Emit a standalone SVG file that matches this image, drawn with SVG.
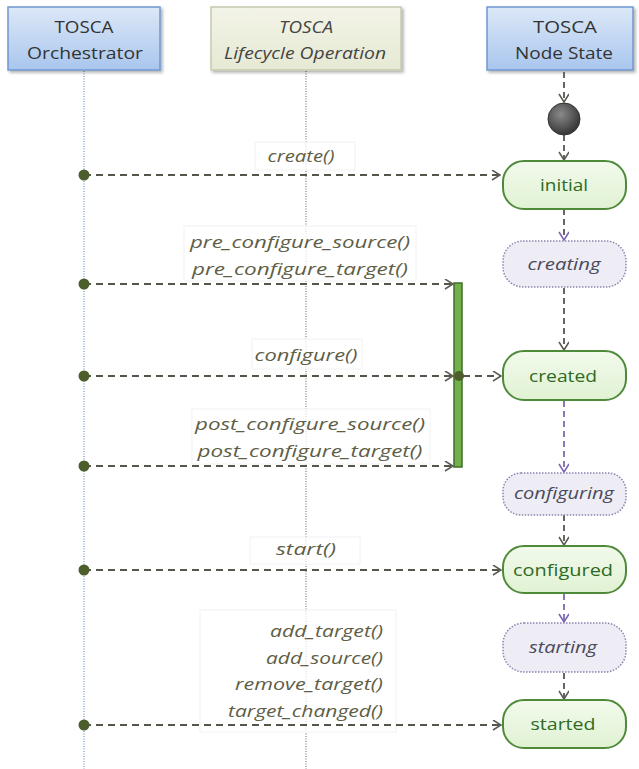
<svg xmlns="http://www.w3.org/2000/svg" width="639" height="769" viewBox="0 0 639 769">
<defs>
  <linearGradient id="gBlue" x1="0" y1="0" x2="0" y2="1">
    <stop offset="0" stop-color="#dce8f7"/>
    <stop offset="1" stop-color="#a9c6ee"/>
  </linearGradient>
  <linearGradient id="gBeige" x1="0" y1="0" x2="0" y2="1">
    <stop offset="0" stop-color="#f3f4e8"/>
    <stop offset="1" stop-color="#e6e9d3"/>
  </linearGradient>
  <linearGradient id="gGreen" x1="0" y1="0" x2="0" y2="1">
    <stop offset="0" stop-color="#f2faec"/>
    <stop offset="1" stop-color="#e0f2d3"/>
  </linearGradient>
  <radialGradient id="gDot" cx="0.4" cy="0.35" r="0.7">
    <stop offset="0" stop-color="#8a8a8a"/>
    <stop offset="1" stop-color="#303030"/>
  </radialGradient>
  <filter id="shadow" x="-10%" y="-10%" width="125%" height="130%">
    <feDropShadow dx="2" dy="2" stdDeviation="1.5" flood-color="#000" flood-opacity="0.3"/>
  </filter>
  <marker id="aGray" markerWidth="12" markerHeight="12" refX="9" refY="5" orient="auto" markerUnits="userSpaceOnUse">
    <path d="M1,0 L9,5 L1,10" fill="none" stroke="#5a5a50" stroke-width="1.5"/>
  </marker>
  <marker id="aPurple" markerWidth="12" markerHeight="12" refX="9" refY="5" orient="auto" markerUnits="userSpaceOnUse">
    <path d="M1,0 L9,5 L1,10" fill="none" stroke="#7a64b0" stroke-width="1.5"/>
  </marker>
</defs>
<style>
  .hdr { font-family: "Open Sans", "Liberation Sans", sans-serif; font-size: 17px; fill: #333; text-anchor: middle; }
  .hdri { font-family: "Open Sans", "Liberation Sans", sans-serif; font-size: 16px; fill: #444; text-anchor: middle; font-style: italic; }
  .lbl { font-family: "Open Sans", "Liberation Sans", sans-serif; font-size: 16.5px; fill: #5e5e46; font-style: italic; }
  .st { font-family: "Open Sans", "Liberation Sans", sans-serif; font-size: 17px; fill: #2e6a22; text-anchor: middle; }
  .sti { font-family: "Open Sans", "Liberation Sans", sans-serif; font-size: 17px; fill: #4a4a5a; text-anchor: middle; font-style: italic; }
  .green { fill: url(#gGreen); stroke: #4f8a3a; stroke-width: 2; }
  .lav { fill: #eeecf4; stroke: #8f84b0; stroke-width: 1.5; stroke-dasharray: 1.5 1.5; }
  .msg { stroke: #55554a; stroke-width: 2; stroke-dasharray: 7 5; fill: none; }
  .tr { stroke: #666; stroke-width: 2; stroke-dasharray: 6 4; fill: none; }
  .trp { stroke: #8a76b8; stroke-width: 2; stroke-dasharray: 6 4; fill: none; }
  .dot { fill: #4b5e2c; }
  .lblbox { fill: #ffffff; fill-opacity: 0.75; stroke: #f2f2f2; stroke-width: 1; }
</style>
<rect width="639" height="769" fill="#ffffff"/>

<!-- lifelines -->
<g id="lifelines">
  <line x1="84" y1="71" x2="84" y2="769" stroke="#a8bedf" stroke-width="2" stroke-dasharray="1 1.5"/>
  <line x1="306" y1="71" x2="306" y2="769" stroke="#b0b0b0" stroke-width="2" stroke-dasharray="1 1.5"/>
</g>

<!-- headers -->
<g id="hdr-orchestrator">
  <rect x="8" y="7" width="152" height="63" fill="url(#gBlue)" stroke="#6f97cf" stroke-width="1.5" filter="url(#shadow)"/>
  <text class="hdr" x="84" y="33" textLength="59" lengthAdjust="spacingAndGlyphs">TOSCA</text>
  <text class="hdr" x="85" y="59" textLength="116" lengthAdjust="spacingAndGlyphs">Orchestrator</text>
</g>
<g id="hdr-lifecycle">
  <rect x="211" y="7" width="190" height="63" fill="url(#gBeige)" stroke="#c6c9ad" stroke-width="1.5" filter="url(#shadow)"/>
  <text class="hdri" x="306" y="33" textLength="54" lengthAdjust="spacingAndGlyphs">TOSCA</text>
  <text class="hdri" x="305" y="59" textLength="162" lengthAdjust="spacingAndGlyphs">Lifecycle Operation</text>
</g>
<g id="hdr-nodestate">
  <rect x="487" y="7" width="146" height="63" fill="url(#gBlue)" stroke="#6f97cf" stroke-width="1.5" filter="url(#shadow)"/>
  <text class="hdr" x="565" y="33" textLength="64" lengthAdjust="spacingAndGlyphs">TOSCA</text>
  <text class="hdr" x="564" y="59" textLength="98" lengthAdjust="spacingAndGlyphs">Node State</text>
</g>

<!-- label boxes -->
<g id="labels">
  <rect class="lblbox" x="255" y="142" width="100" height="28"/>
  <text class="lbl" x="301" y="162" text-anchor="middle" textLength="67" lengthAdjust="spacingAndGlyphs">create()</text>
  <rect class="lblbox" x="184" y="226" width="232" height="55"/>
  <text class="lbl" x="300" y="248" text-anchor="middle" textLength="220" lengthAdjust="spacingAndGlyphs">pre_configure_source()</text>
  <text class="lbl" x="300" y="275" text-anchor="middle" textLength="216" lengthAdjust="spacingAndGlyphs">pre_configure_target()</text>
  <rect class="lblbox" x="252" y="339" width="110" height="30"/>
  <text class="lbl" x="306" y="361" text-anchor="middle" textLength="103" lengthAdjust="spacingAndGlyphs">configure()</text>
  <rect class="lblbox" x="192" y="409" width="238" height="55"/>
  <text class="lbl" x="310" y="430" text-anchor="middle" textLength="230" lengthAdjust="spacingAndGlyphs">post_configure_source()</text>
  <text class="lbl" x="310" y="457" text-anchor="middle" textLength="225" lengthAdjust="spacingAndGlyphs">post_configure_target()</text>
  <rect class="lblbox" x="250" y="537" width="110" height="27"/>
  <text class="lbl" x="306" y="555" text-anchor="middle" textLength="60" lengthAdjust="spacingAndGlyphs">start()</text>
  <rect class="lblbox" x="200" y="610" width="196" height="122"/>
  <text class="lbl" x="383" y="637" text-anchor="end" textLength="113" lengthAdjust="spacingAndGlyphs">add_target()</text>
  <text class="lbl" x="383" y="664" text-anchor="end" textLength="117" lengthAdjust="spacingAndGlyphs">add_source()</text>
  <text class="lbl" x="383" y="690" text-anchor="end" textLength="148" lengthAdjust="spacingAndGlyphs">remove_target()</text>
  <text class="lbl" x="383" y="717" text-anchor="end" textLength="155" lengthAdjust="spacingAndGlyphs">target_changed()</text>
</g>

<!-- connectors -->
<g id="connectors">
  <line class="msg" x1="84" y1="175" x2="500" y2="175" marker-end="url(#aGray)"/>
  <line class="msg" x1="84" y1="284" x2="453" y2="284" marker-end="url(#aGray)"/>
  <line class="msg" x1="84" y1="376" x2="453" y2="376" marker-end="url(#aGray)"/>
  <line class="msg" x1="463" y1="376" x2="501" y2="376" marker-end="url(#aGray)"/>
  <line class="msg" x1="84" y1="466" x2="453" y2="466" marker-end="url(#aGray)"/>
  <line class="msg" x1="84" y1="570" x2="501" y2="570" marker-end="url(#aGray)"/>
  <line class="msg" x1="84" y1="725" x2="501" y2="725" marker-end="url(#aGray)"/>
  <circle class="dot" cx="84" cy="175" r="5.5"/>
  <circle class="dot" cx="84" cy="284" r="5.5"/>
  <circle class="dot" cx="84" cy="376" r="5.5"/>
  <circle class="dot" cx="84" cy="466" r="5.5"/>
  <circle class="dot" cx="84" cy="570" r="5.5"/>
  <circle class="dot" cx="84" cy="725" r="5.5"/>
  <!-- state transitions -->
  <line class="tr" x1="564" y1="72" x2="564" y2="102" marker-end="url(#aGray)"/>
  <line class="tr" x1="564" y1="135" x2="564" y2="160" marker-end="url(#aGray)"/>
  <line class="tr" x1="564" y1="209" x2="564" y2="240" marker-end="url(#aPurple)"/>
  <line class="tr" x1="564" y1="288" x2="564" y2="350" marker-end="url(#aGray)"/>
  <line class="trp" x1="564" y1="401" x2="564" y2="472" marker-end="url(#aPurple)"/>
  <line class="tr" x1="564" y1="515" x2="564" y2="545" marker-end="url(#aGray)"/>
  <line class="trp" x1="564" y1="594" x2="564" y2="622" marker-end="url(#aPurple)"/>
  <line class="tr" x1="564" y1="673" x2="564" y2="699" marker-end="url(#aGray)"/>
</g>

<!-- sync bar -->
<g id="syncbar">
  <rect x="454" y="283" width="8" height="184" fill="#72b04e" stroke="#3f6e28" stroke-width="1.5"/>
  <circle class="dot" cx="459" cy="376" r="5"/>
</g>

<!-- initial pseudo-state -->
<g id="start">
  <circle cx="564" cy="119" r="16" fill="url(#gDot)" stroke="#333" stroke-width="1"/>
</g>

<!-- states -->
<g id="s-initial">
  <rect class="green" x="503" y="161" width="123" height="48" rx="21"/>
  <text class="st" x="564" y="191" textLength="48" lengthAdjust="spacingAndGlyphs">initial</text>
</g>
<g id="s-creating">
  <rect class="lav" x="503" y="241" width="123" height="46" rx="20"/>
  <text class="sti" x="564" y="270" textLength="73" lengthAdjust="spacingAndGlyphs">creating</text>
</g>
<g id="s-created">
  <rect class="green" x="503" y="351" width="123" height="49" rx="21"/>
  <text class="st" x="563" y="382" textLength="68" lengthAdjust="spacingAndGlyphs">created</text>
</g>
<g id="s-configuring">
  <rect class="lav" x="503" y="473" width="123" height="42" rx="18"/>
  <text class="sti" x="564" y="499" textLength="100" lengthAdjust="spacingAndGlyphs">configuring</text>
</g>
<g id="s-configured">
  <rect class="green" x="503" y="546" width="123" height="47" rx="21"/>
  <text class="st" x="563" y="576" textLength="100" lengthAdjust="spacingAndGlyphs">configured</text>
</g>
<g id="s-starting">
  <rect class="lav" x="503" y="623" width="123" height="49" rx="21"/>
  <text class="sti" x="563" y="653" textLength="68" lengthAdjust="spacingAndGlyphs">starting</text>
</g>
<g id="s-started">
  <rect class="green" x="503" y="700" width="123" height="48" rx="21"/>
  <text class="st" x="563" y="730" textLength="65" lengthAdjust="spacingAndGlyphs">started</text>
</g>
</svg>
